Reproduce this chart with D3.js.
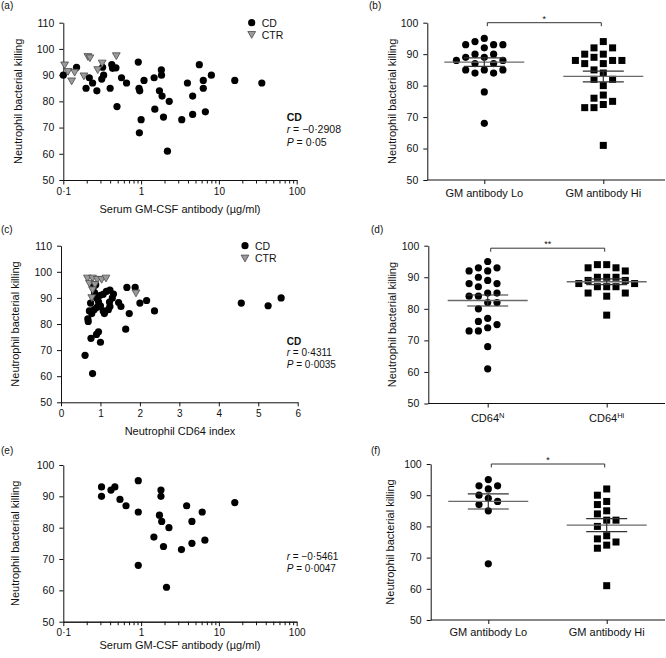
<!DOCTYPE html>
<html><head><meta charset="utf-8">
<script src="https://cdn.jsdelivr.net/npm/d3@7"></script>
<style>
body{margin:0;background:#fff}
svg{display:block}
</style>
</head><body>
<svg id="chart" width="666" height="658"></svg>
<script>
// ================= DATA =================
const yTicks110 = [50, 60, 70, 80, 90, 100, 110];
const yTicks100 = [50, 60, 70, 80, 90, 100];
const logMajorTicks = [0.1, 1, 10, 100];
const cd64Ticks = [0, 1, 2, 3, 4, 5, 6];
const yTitle = "Neutrophil bacterial killing";
const gmTitle = "Serum GM-CSF antibody (\u00b5g/ml)";
const cd64Title = "Neutrophil CD64 index";
const legendLabels = ["CD", "CTR"];

// (a) serum GM-CSF antibody vs killing: [antibody, killing]
const aCD = [[0.1,90],[0.148,93],[0.196,85],[0.216,89],[0.238,87],[0.27,84],[0.312,88.5],[0.32,93],[0.33,90],
  [0.4,85],[0.42,94],[0.43,92.6],[0.475,92.8],[0.49,78],[0.56,89],[0.65,87],[0.92,95],[0.94,85],[0.96,84],
  [1.0,73],[0.95,68],[1.09,88],[1.47,89],[1.5,77],[1.72,84],[1.82,92],[1.83,90],[1.86,82],[1.94,74],[2.18,61],
  [2.3,80],[3.33,73],[3.94,87],[4.6,82],[4.6,75],[5.6,94],[6.3,88],[6.3,85],[6.7,76],[8.0,90],[16,88],[35.6,87]];
const aCTR = [[0.104,93.8],[0.115,91.3],[0.128,87.7],[0.14,91],[0.184,89.6],[0.207,97],[0.22,96.5],
  [0.277,92],[0.316,94.5],[0.48,97.3]];
const aStats = ["CD", "\u22120\u00b72908", "0\u00b705"];

// (c) CD64 index vs killing
const cCD = [[0.61,68],[0.80,61],[0.76,74.5],[0.90,76],[0.95,77],[1.0,73],[0.69,81],[0.68,82],[0.72,85],
  [0.84,85.5],[1.10,84],[1.64,78],[1.73,84],[2.37,85],[4.57,88],[5.25,87],[5.58,90],[2.0,88],[2.17,89],
  [1.67,94],[1.88,94],[0.82,94.3],[0.85,92],[0.90,90],[0.95,88.5],[1.0,91],[1.07,91.4],[1.15,92.5],
  [1.24,93],[1.33,91.5],[1.23,88.4],[1.46,88.2],[1.52,86.7],[1.07,85],[1.24,86.7],[0.91,86.4],[0.78,84],
  [1.30,90],[0.88,95],[1.2,85.5],[0.75,88],[1.0,87]];
const cCTR = [[0.67,97.5],[0.80,97.5],[0.92,97],[1.03,97],[1.14,97.5],[0.72,95.5],[0.86,95],[0.80,93],
  [0.78,90],[1.90,91.8]];
const cStats = ["CD", "0\u00b74311", "0\u00b70035"];

// (e) serum GM-CSF antibody vs killing (subset)
const eCD = [[0.31,93],[0.31,90],[0.41,92],[0.46,93],[0.535,89],[0.64,87],[0.92,95],[0.92,85],[0.92,68],
  [1.46,77],[1.72,84],[1.8,92],[1.8,90],[1.84,82],[1.94,74],[2.12,61],[2.28,80],[3.3,73],[3.85,87],
  [4.5,75],[4.5,82],[6.1,85],[6.6,76],[16,88]];
const eStats = [null, "\u22120\u00b75461", "0\u00b70047"];

// (b) GM antibody Lo vs Hi
const bCats = ["GM antibody Lo", "GM antibody Hi"];
const bLo = [94,93,92,93,93,95,90,89,88,88,89,90,87,87,85,85,85,84,84,78,68];
const bHi = [90,88,88,92,92,94,87,87,88,89,90,85,84,82,82,80,75,77,73,73,74,76,61];
const bSig = "*";

// (d) CD64 N vs Hi
const dCats = [["CD64","N"], ["CD64","Hi"]];
const dN = [95,93,92,92,93,89,88,87,88,90,85,84,82,82,84,85,80,77,76,74,73,73,75,68,61];
const dHi = [94,93,92,93,94,90,89,89,90,90,87,87,88,88,87,85,85,84,78];
const dSig = "**";

// (f) GM antibody Lo vs Hi (subset)
const fCats = ["GM antibody Lo", "GM antibody Hi"];
const fLo = [93,92,93,95,90,89,88,87,85,68];
const fHi = [92,90,87,88,85,84,82,82,80,77,76,74,73,75,61];
const fSig = "*";

// ================= DRAWING =================
const FONT = '"Liberation Sans", Arial, Helvetica, sans-serif';
const svg = d3.select("#chart").attr("font-family", FONT);
const R = 3.6;

function styleAxis(sel, fs) {
  sel.attr("font-family", FONT);
  sel.selectAll("path.domain").attr("stroke", "#111").attr("stroke-width", 1);
  sel.selectAll(".tick line").attr("stroke", "#111").attr("stroke-width", 1);
  sel.selectAll(".tick text").attr("font-size", fs).attr("fill", "#111");
}
function fmtNum(d) { return String(d).replace(".", "\u00b7"); }

function panelLabel(txt, x, y) {
  svg.append("text").attr("x", x).attr("y", y).attr("font-size", 10).attr("fill", "#111").text(txt);
}
function yTitleText(x, y) {
  svg.append("text").attr("transform", `translate(${x},${y}) rotate(-90)`)
    .attr("text-anchor", "middle").attr("dy", "0.35em").attr("font-size", 11).attr("fill", "#111").text(yTitle);
}
function drawYAxis(y, x0, ticks) {
  const ax = svg.append("g").attr("transform", `translate(${x0},0)`)
    .call(d3.axisLeft(y).tickValues(ticks).tickSize(4).tickSizeOuter(0).tickPadding(5).tickFormat(d3.format("d")));
  styleAxis(ax, 10.5);
}
const triPath = "M-3.9,-3.2L3.9,-3.2L0,3.6Z";

function scatterPanel(L, cd, ctr, stats, withLegend) {
  const x = L.log ? d3.scaleLog().domain([0.1, 100]).range([L.x0, L.x1])
                  : d3.scaleLinear().domain([0, 6]).range([L.x0, L.x1]);
  const y = d3.scaleLinear().domain([50, L.yMax]).range([L.yBot, L.yTop]);
  drawYAxis(y, L.x0, L.yMax === 110 ? yTicks110 : yTicks100);
  if (L.log) {
    const minors = [];
    [0.1, 1, 10].forEach(dec => { for (let k = 2; k <= 9; k++) minors.push(+(dec * k).toPrecision(3)); });
    const mi = svg.append("g").attr("transform", `translate(0,${L.yBot})`)
      .call(d3.axisBottom(x).tickValues(minors).tickSize(3.5).tickSizeOuter(0).tickFormat(""));
    styleAxis(mi, 10);
    const ma = svg.append("g").attr("transform", `translate(0,${L.yBot})`)
      .call(d3.axisBottom(x).tickValues(logMajorTicks).tickSize(4.5).tickSizeOuter(0).tickPadding(3).tickFormat(fmtNum));
    styleAxis(ma, 10);
  } else {
    const ma = svg.append("g").attr("transform", `translate(0,${L.yBot})`)
      .call(d3.axisBottom(x).tickValues(cd64Ticks).tickSize(4).tickSizeOuter(0).tickPadding(4).tickFormat(d3.format("d")));
    styleAxis(ma, 10);
  }
  // x title
  svg.append("text").attr("x", L.xTitleX).attr("y", L.xTitleY).attr("text-anchor", "middle")
    .attr("font-size", 11).attr("fill", "#111").text(L.xTitle);
  yTitleText(L.yTitleX, (L.yTop + L.yBot) / 2);
  // points
  svg.append("g").selectAll("circle").data(cd).join("circle")
    .attr("cx", d => x(d[0])).attr("cy", d => y(d[1])).attr("r", R).attr("fill", "#000");
  if (ctr) {
    svg.append("g").selectAll("path").data(ctr).join("path")
      .attr("d", triPath).attr("transform", d => `translate(${x(d[0])},${y(d[1])})`)
      .attr("fill", "#9a9a9a").attr("stroke", "#4a4a4a").attr("stroke-width", 0.8);
  }
  if (withLegend) {
    const lg = svg.append("g");
    lg.append("circle").attr("cx", L.legX).attr("cy", L.legY).attr("r", R).attr("fill", "#000");
    lg.append("path").attr("d", triPath).attr("transform", `translate(${L.legX},${L.legY + L.legDy})`)
      .attr("fill", "#9a9a9a").attr("stroke", "#4a4a4a").attr("stroke-width", 0.8);
    legendLabels.forEach((t, i) => lg.append("text").attr("x", L.legX + 10).attr("y", L.legY + i * L.legDy + 3.8)
      .attr("font-size", 10.5).attr("fill", "#111").text(t));
  }
  // stats
  const st = svg.append("g").attr("font-size", L.statFs).attr("fill", "#111");
  if (stats[0]) st.append("text").attr("x", L.statX).attr("y", L.statY[0]).attr("font-weight", "bold").attr("fill", "#111").text(stats[0]);
  const t1 = st.append("text").attr("x", L.statX).attr("y", L.statY[1]).attr("fill", "#111");
  t1.append("tspan").attr("font-style", "italic").text("r");
  t1.append("tspan").text(" = " + stats[1]);
  const t2 = st.append("text").attr("x", L.statX).attr("y", L.statY[2]).attr("fill", "#111");
  t2.append("tspan").attr("font-style", "italic").text("P");
  t2.append("tspan").text(" = " + stats[2]);
}

function swarm(values, y, cx, step, minDist) {
  const idx = values.map((v, i) => i).sort((a, b) => values[b] - values[a] || a - b);
  const placed = [];
  const res = new Array(values.length);
  const order = [0, -1, 1, -2, 2, -3, 3, -4, 4, -5, 5, -6, 6, -7, 7];
  for (const i of idx) {
    const py = y(values[i]);
    for (const s of order) {
      if (!placed.some(p => p.slot === s && Math.abs(p.py - py) < minDist)) {
        placed.push({ slot: s, py });
        res[i] = { x: cx + s * step, y: py };
        break;
      }
    }
  }
  return res;
}

function dotPanel(L, cats, g1, g2, sig) {
  const y = d3.scaleLinear().domain([50, 100]).range([L.yBot, L.yTop]);
  drawYAxis(y, L.x0, yTicks100);
  const keys = cats.map((c, i) => "k" + i);
  const x = d3.scalePoint().domain(keys).range([L.x0 + L.c0, L.x0 + L.c1]);
  // x axis line
  svg.append("line").attr("x1", L.x0).attr("x2", L.xEnd).attr("y1", L.yBot).attr("y2", L.yBot)
    .attr("stroke", "#111").attr("stroke-width", 1);
  const xa = svg.append("g").attr("transform", `translate(0,${L.yBot})`)
    .call(d3.axisBottom(x).tickSize(4).tickFormat(""));
  xa.select("path.domain").remove();
  styleAxis(xa, 11);
  cats.forEach((c, i) => {
    const t = svg.append("text").attr("x", x(keys[i])).attr("y", L.catY).attr("text-anchor", "middle")
      .attr("font-size", 11).attr("fill", "#111");
    if (Array.isArray(c)) {
      t.append("tspan").text(c[0]);
      t.append("tspan").attr("dy", -4).attr("font-size", 7.5).text(c[1]);
    } else t.text(c);
  });
  yTitleText(L.yTitleX, (L.yTop + L.yBot) / 2);
  const step = 9.3, minD = 7.4;
  [g1, g2].forEach((vals, gi) => {
    const cx = x(keys[gi]);
    const pts = swarm(vals, y, cx, step, minD);
    const gg = svg.append("g");
    if (gi === 0) {
      gg.selectAll("circle").data(pts).join("circle").attr("cx", d => d.x).attr("cy", d => d.y).attr("r", R).attr("fill", "#000");
    } else {
      gg.selectAll("rect").data(pts).join("rect").attr("x", d => d.x - 3.5).attr("y", d => d.y - 3.5)
        .attr("width", 7).attr("height", 7).attr("fill", "#000");
    }
    const m = d3.mean(vals), sem = d3.deviation(vals) / Math.sqrt(vals.length);
    gg.append("line").attr("x1", cx - 40).attr("x2", cx + 40).attr("y1", y(m)).attr("y2", y(m))
      .attr("stroke", "#6a6a6a").attr("stroke-width", 1.3);
    [m + sem, m - sem].forEach(v => gg.append("line").attr("x1", cx - 20.5).attr("x2", cx + 20.5)
      .attr("y1", y(v)).attr("y2", y(v)).attr("stroke", "#333").attr("stroke-width", 1.2));
    gg.append("line").attr("x1", cx).attr("x2", cx).attr("y1", y(m + sem)).attr("y2", y(m - sem))
      .attr("stroke", "#333").attr("stroke-width", 1.2);
  });
  // significance bracket
  const by = y(100) + L.brOff, xa1 = x(keys[0]) + 3, xa2 = x(keys[1]) - 2;
  svg.append("path").attr("d", `M${xa1},${by + 3.5}V${by}H${xa2}V${by + 3.5}`)
    .attr("fill", "none").attr("stroke", "#333").attr("stroke-width", 1);
  svg.append("text").attr("x", (xa1 + xa2) / 2).attr("y", by - 1).attr("text-anchor", "middle")
    .attr("font-size", 9).attr("fill", "#111").text(sig);
}

// ---- Layouts ----
scatterPanel({log: true, x0: 63.3, x1: 296.7, yMax: 110, yTop: 22.7, yBot: 180,
  xTitle: gmTitle, xTitleX: 180, xTitleY: 213, yTitleX: 18,
  legX: 251.7, legY: 22.7, legDy: 12, statX: 286.7, statFs: 10.5, statY: [120.5, 133, 145.5]}, aCD, aCTR, aStats, true);
panelLabel("(a)", 1, 9);

dotPanel({x0: 427.3, xEnd: 665, c0: 57, c1: 176, yTop: 22.7, yBot: 180, catY: 196.5, yTitleX: 391.7, brOff: 0},
  bCats, bLo, bHi, bSig);
panelLabel("(b)", 369, 9);

scatterPanel({log: false, x0: 61, x1: 297.7, yMax: 110, yTop: 245.7, yBot: 402.3,
  xTitle: cd64Title, xTitleX: 180, xTitleY: 435, yTitleX: 15,
  legX: 245, legY: 245.7, legDy: 12.6, statX: 286.7, statFs: 10, statY: [344.5, 356, 367.5]}, cCD, cCTR, cStats, true);
panelLabel("(c)", 1, 233);

dotPanel({x0: 428.3, xEnd: 665, c0: 59.4, c1: 178.4, yTop: 245.7, yBot: 403.5, catY: 422, yTitleX: 391.7, brOff: 2.5},
  dCats, dN, dHi, dSig);
panelLabel("(d)", 371, 233);

scatterPanel({log: true, x0: 63.3, x1: 296.7, yMax: 100, yTop: 465, yBot: 621.7,
  xTitle: gmTitle, xTitleX: 180, xTitleY: 649, yTitleX: 15,
  statX: 286.7, statFs: 10, statY: [0, 560.3, 571.8]}, eCD, null, eStats, false);
panelLabel("(e)", 1, 454);

dotPanel({x0: 430.7, xEnd: 665, c0: 57.6, c1: 176, yTop: 464, yBot: 620, catY: 635.5, yTitleX: 390, brOff: 0},
  fCats, fLo, fHi, fSig);
panelLabel("(f)", 371, 454);
</script>
</body></html>
